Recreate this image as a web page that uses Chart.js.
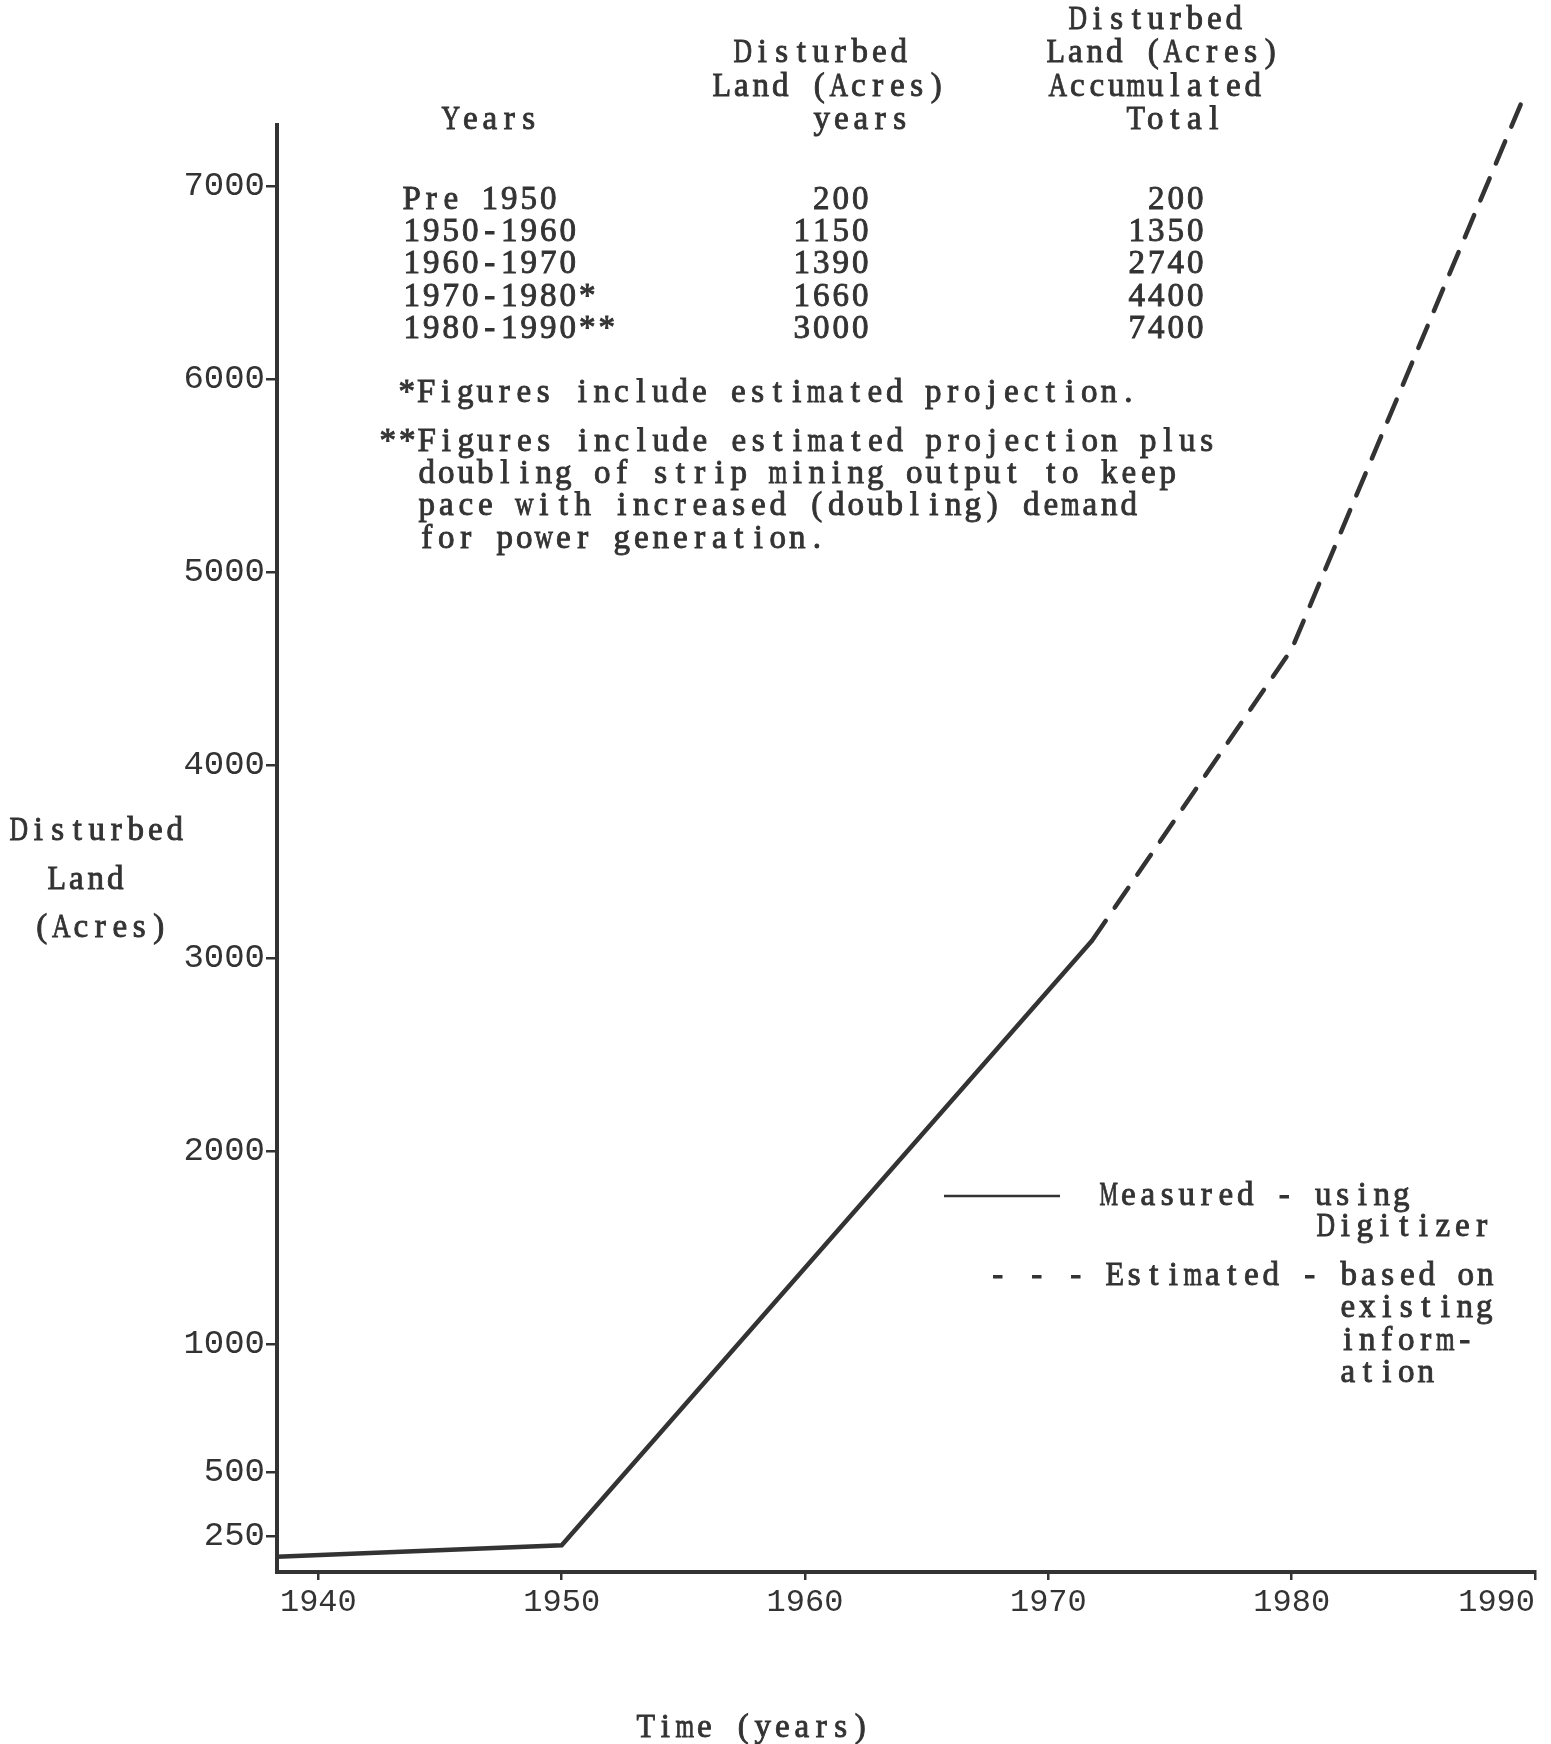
<!DOCTYPE html>
<html>
<head>
<meta charset="utf-8">
<script src="https://cdn.jsdelivr.net/npm/chart.js@4.4.0/dist/chart.umd.min.js"></script>
<style>
  html, body { margin: 0; padding: 0; background: #fff; }
  #wrap { width: 1551px; height: 1744px; position: relative; }
</style>
</head>
<body>
<div id="wrap"><canvas id="myChart"></canvas></div>
<script>
'use strict';

// values
const measuredYears = [1938.3, 1950, 1971.8];
const measuredAcres = [170, 215, 3090];
const estimatedYears = [1971.8, 1980, 1989.5];
const estimatedAcres = [3090, 4600, 7450];

const xTicks = [1940, 1950, 1960, 1970, 1980, 1990];
const yTicks = [250, 500, 1000, 2000, 3000, 4000, 5000, 6000, 7000];

const tableYears = ['Pre 1950', '1950-1960', '1960-1970', '1970-1980*', '1980-1990**'];
const tablePeriod = [200, 1150, 1390, 1660, 3000];
const tableTotal = [200, 1350, 2740, 4400, 7400];

const INK = '#333333';
const FONT = '"Liberation Mono", "DejaVu Sans Mono", monospace';
const TYPE_FONT = '33px "Liberation Serif", serif';
const CELL = 19.5;   // typewriter pitch in px

// the hand drawn axis is stretched below 1000 acres
const BREAK = 1000;
const STRETCH = 1.33;

class BrokenScale extends Chart.LinearScale {
    lin(v) { return v >= BREAK ? v : BREAK - (BREAK - v) * STRETCH; }
    unlin(u) { return u >= BREAK ? u : BREAK - (BREAK - u) / STRETCH; }
    getPixelForValue(value) {
        if (value === null || value === undefined) return NaN;
        const a = this.lin(this.min), b = this.lin(this.max);
        return this.getPixelForDecimal((this.lin(value) - a) / (b - a));
    }
    getValueForPixel(pixel) {
        const a = this.lin(this.min), b = this.lin(this.max);
        return this.unlin(a + this.getDecimalForPixel(pixel) * (b - a));
    }
}
BrokenScale.id = 'broken';
BrokenScale.defaults = Chart.LinearScale.defaults;
Chart.register(BrokenScale);

// draw a string one character per cell, like a typewriter
function typed(ctx, str, x, y, align) {
    const n = str.length;
    const x0 = align === 'right' ? x - n * CELL : x;
    for (let i = 0; i < n; ++i) {
        const ch = str[i];
        if (ch === ' ') continue;
        const w = ctx.measureText(ch).width;
        const f = Math.min(1, CELL * 0.95 / w);
        ctx.save();
        ctx.translate(x0 + i * CELL + CELL / 2, y);
        ctx.scale(f, 1);
        ctx.fillText(ch, 0, 0);
        ctx.strokeText(ch, 0, 0);
        ctx.restore();
    }
}

const typedText = {
    id: 'typedText',
    afterDraw(chart) {
        const ctx = chart.ctx;
        ctx.save();
        ctx.fillStyle = INK;
        ctx.strokeStyle = INK;
        ctx.lineWidth = 0.9;
        ctx.textBaseline = 'middle';
        ctx.textAlign = 'center';
        ctx.font = TYPE_FONT;

        // table header
        typed(ctx, 'Years', 441, 120);
        typed(ctx, 'Disturbed', 733, 53);
        typed(ctx, 'Land (Acres)', 712, 87);
        typed(ctx, 'years', 812, 120);
        typed(ctx, 'Disturbed', 1068, 20);
        typed(ctx, 'Land (Acres)', 1046, 53);
        typed(ctx, 'Accumulated', 1048, 87);
        typed(ctx, 'Total', 1126, 120);

        // table rows
        for (let i = 0; i < tableYears.length; ++i) {
            const y = 200 + i * 32.3;
            typed(ctx, tableYears[i], 402, y);
            typed(ctx, String(tablePeriod[i]), 870, y, 'right');
            typed(ctx, String(tableTotal[i]), 1205, y, 'right');
        }

        // footnotes
        typed(ctx, '*Figures include estimated projection.', 397, 393);
        typed(ctx, '**Figures include estimated projection plus', 378, 442);
        typed(ctx, 'doubling of strip mining output to keep', 417, 474);
        typed(ctx, 'pace with increased (doubling) demand', 417, 506);
        typed(ctx, 'for power generation.', 417, 539);

        // axis titles
        typed(ctx, 'Disturbed', 9, 831);
        typed(ctx, 'Land', 47, 880);
        typed(ctx, '(Acres)', 32, 928);
        typed(ctx, 'Time (years)', 636, 1728);

        // legend
        typed(ctx, 'Measured - using', 1099, 1196);
        typed(ctx, 'Digitizer', 1316, 1227);
        typed(ctx, '- - - Estimated - based on', 988, 1276);
        typed(ctx, 'existing', 1338, 1308);
        typed(ctx, 'inform-', 1338, 1341);
        typed(ctx, 'ation', 1338, 1373);
        ctx.lineWidth = 2.5;
        ctx.beginPath();
        ctx.moveTo(944, 1196);
        ctx.lineTo(1060, 1196);
        ctx.stroke();
        ctx.restore();
    }
};

const ctx = document.getElementById('myChart').getContext('2d');

const myChart = new Chart(ctx, {
    type: 'line',
    data: {
        datasets: [{
            label: 'Measured - using Digitizer',
            data: measuredYears.map((x, i) => ({ x: x, y: measuredAcres[i] })),
            borderColor: INK,
            borderWidth: 4.5,
            pointRadius: 0,
            tension: 0,
            clip: false
        }, {
            label: 'Estimated - based on existing information',
            data: estimatedYears.map((x, i) => ({ x: x, y: estimatedAcres[i] })),
            borderColor: INK,
            borderWidth: 4.5,
            borderDash: [24, 16],
            borderCapStyle: 'round',
            pointRadius: 0,
            tension: 0,
            clip: false
        }]
    },
    plugins: [typedText],
    options: {
        responsive: true,
        maintainAspectRatio: false,
        animation: false,
        devicePixelRatio: 1,
        layout: {
            padding: { left: 0, top: 125, right: 16, bottom: 112 }
        },
        plugins: {
            legend: { display: false },
            tooltip: { enabled: false }
        },
        scales: {
            x: {
                type: 'linear',
                min: 1938.3,
                max: 1990,
                afterFit: function (s) {
                    s.height = 60;
                    s.paddingLeft = 0;
                    s.paddingRight = 0;
                },
                afterBuildTicks: function (s) {
                    s.ticks = xTicks.map(v => ({ value: v }));
                },
                ticks: {
                    autoSkip: false,
                    maxRotation: 0,
                    padding: 3,
                    color: INK,
                    font: { family: FONT, size: 32 },
                    // last label sits left of its tick, as typed
                    callback: v => v === 1990 ? '1990    ' : String(v)
                },
                grid: {
                    display: true,
                    drawOnChartArea: false,
                    drawTicks: true,
                    tickLength: 8,
                    color: INK,
                    lineWidth: 2.5
                },
                border: { display: true, color: INK, width: 4 }
            },
            y: {
                type: 'broken',
                min: 111,
                max: 7317,
                afterFit: function (s) {
                    s.width = 277;
                    s.paddingTop = 0;
                    s.paddingBottom = 0;
                },
                afterBuildTicks: function (s) {
                    s.ticks = yTicks.map(v => ({ value: v }));
                },
                ticks: {
                    autoSkip: false,
                    padding: 1,
                    color: INK,
                    font: { family: FONT, size: 34 },
                    callback: v => String(v)
                },
                grid: {
                    display: true,
                    drawOnChartArea: false,
                    drawTicks: true,
                    tickLength: 11,
                    color: INK,
                    lineWidth: 2.5
                },
                border: { display: true, color: INK, width: 4 }
            }
        }
    }
});
</script>
</body>
</html>
